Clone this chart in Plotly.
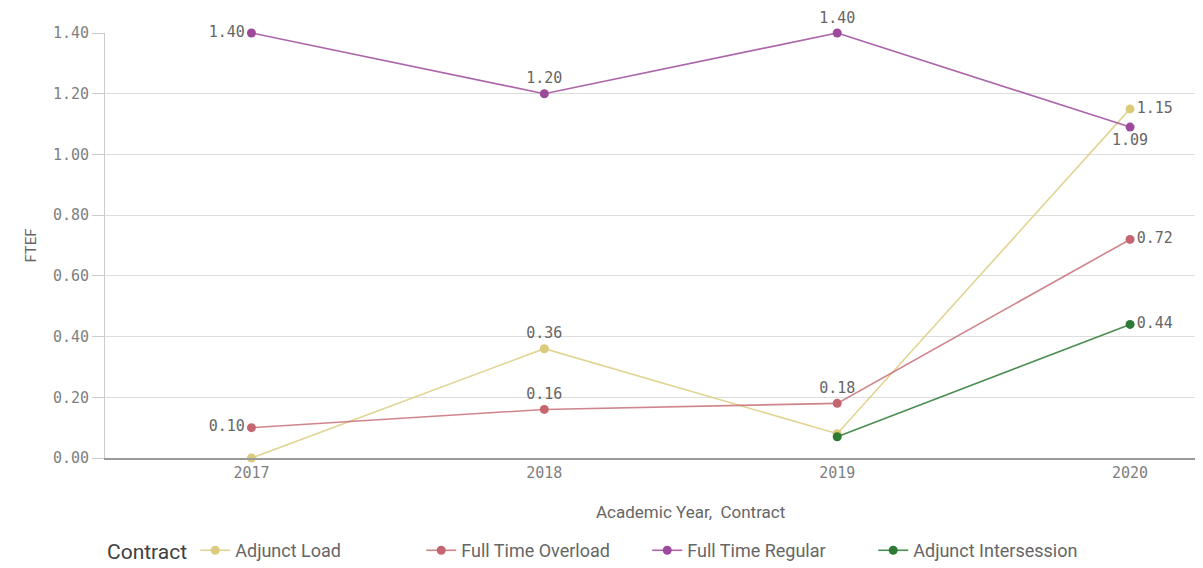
import plotly.graph_objects as go

years = [2017, 2018, 2019, 2020]
adjunct_load = [0.00, 0.36, 0.08, 1.15]
ft_overload = [0.10, 0.16, 0.18, 0.72]
ft_regular = [1.40, 1.20, 1.40, 1.09]
ai_years = [2019, 2020]
adjunct_intersession = [0.07, 0.44]

al_text = ["", "0.36", "", "1.15"]
fto_text = ["0.10", "0.16", "0.18", "0.72"]
ftr_text = ["1.40", "1.20", "1.40", "1.09"]
ai_text = ["", "0.44"]

pos4 = ["middle left", "top center", "top center", "middle right"]
ftr_pos = ["middle left", "top center", "top center", "bottom center"]
ai_pos = ["top center", "middle right"]

MONO = "DejaVu Sans Mono"
SANS = "Roboto"

series = [
    ("Adjunct Load", years, adjunct_load, al_text, pos4, "#dccb7c", "rgba(220,203,124,0.85)"),
    ("Full Time Overload", years, ft_overload, fto_text, pos4, "#c4656f", "rgba(196,101,111,0.8)"),
    ("Full Time Regular", years, ft_regular, ftr_text, ftr_pos, "#9e4a9c", "rgba(158,74,156,0.85)"),
    ("Adjunct Intersession", ai_years, adjunct_intersession, ai_text, ai_pos, "#2d7a34", "rgba(45,122,52,0.85)"),
]

fig = go.Figure()
for name, xs, ys, txt, tp, mc, lc in series:
    fig.add_trace(go.Scatter(
        x=xs, y=ys, name=name, mode="lines+markers+text",
        text=txt, textposition=tp,
        textfont=dict(family=MONO, size=15, color="#666666"),
        line=dict(color=lc, width=1.6),
        marker=dict(color=mc, size=9),
        cliponaxis=False,
    ))

# page body has an 8px margin; figure sized/positioned to compensate
fig.update_layout(
    width=1195, height=560,
    margin=dict(l=97, r=0, t=25, b=110, autoexpand=False),
    plot_bgcolor="white", paper_bgcolor="white",
    showlegend=True,
    legend=dict(
        orientation="h", x=0, xanchor="left", y=-0.219, yanchor="middle",
        title=dict(text="Contract", font=dict(family=SANS, size=21, color="#404040")),
        font=dict(family=SANS, size=18, color="#666666"),
        entrywidth=181, entrywidthmode="pixels",
        itemwidth=30,
    ),
    xaxis=dict(
        range=[2016.5, 2020.249], tickvals=years, ticktext=[str(y) for y in years],
        tickfont=dict(family=MONO, size=15, color="#808080"),
        showgrid=False, zeroline=False, showline=True, linecolor="#999999", linewidth=1.5,
        ticks="", automargin=False,
    ),
    yaxis=dict(
        range=[0, 1.40], tickvals=[0, 0.2, 0.4, 0.6, 0.8, 1.0, 1.2, 1.4],
        ticktext=["0.00", "0.20", "0.40", "0.60", "0.80", "1.00", "1.20", "1.40"],
        tickfont=dict(family=MONO, size=15, color="#808080"),
        showgrid=True, gridcolor="#dddddd", gridwidth=1,
        zeroline=False, showline=True, linecolor="#cccccc",
        ticks="outside", ticklen=12, tickcolor="#cccccc", automargin=False,
        title=dict(text="FTEF", font=dict(family=SANS, size=15, color="#666666"), standoff=12),
    ),
)

fig.add_annotation(
    text="Academic Year,  Contract", xref="paper", yref="paper",
    x=(690 - 105) / (1203 - 105), y=-0.127, xanchor="center", yanchor="middle",
    showarrow=False, font=dict(family=SANS, size=17, color="#666666"),
)

fig.write_html("out.html")
